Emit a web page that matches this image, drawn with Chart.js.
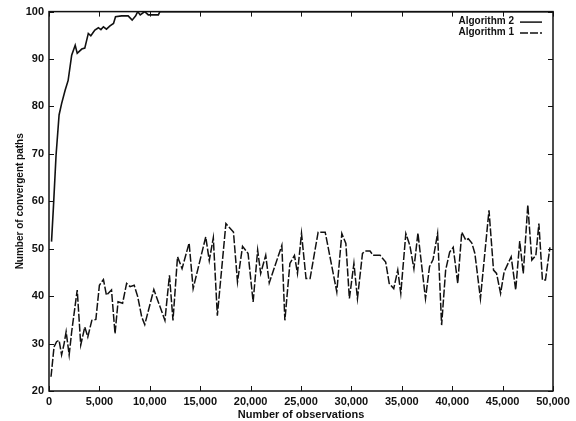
<!DOCTYPE html>
<html>
<head>
<meta charset="utf-8">
<script src="https://cdn.jsdelivr.net/npm/chart.js@4/dist/chart.umd.min.js"></script>
<style>
  html, body { margin: 0; padding: 0; background: #fff; }
  #wrap { width: 576px; height: 421px; }
</style>
</head>
<body>
<div id="wrap"><canvas id="myChart" width="576" height="421"></canvas></div>
<script>
// Algorithm 2 (solid)
const alg2Obs = [250, 450, 700, 1000, 1250, 1600, 1900, 2250, 2600, 2800, 3250, 3550, 3900, 4150,
  4550, 4900, 5150, 5400, 5700, 6050, 6400, 6600, 7200, 7850, 8250, 8600, 8800, 9050, 9500,
  9850, 10850, 11000, 50000];
const alg2Vals = [51.5, 59.2, 69.7, 78.2, 80.6, 83.4, 85.5, 90.8, 92.9, 91.2, 92.1, 92.3, 95.4, 94.9,
  96.1, 96.6, 96.2, 96.8, 96.3, 97.0, 97.5, 98.9, 99.1, 99.1, 98.2, 99.1, 100, 99.3, 100,
  99.3, 99.3, 100, 100];

// Algorithm 1 (dashed)
const alg1Obs = [200, 500, 750, 1000, 1250, 1500, 1700, 2000, 2250, 2800, 3150, 3550, 3850, 4250,
  4650, 5000, 5400, 5700, 6200, 6550, 6850, 7300, 7700, 8050, 8450, 8800, 9200, 9500, 10400,
  11500, 11950, 12300, 12750, 13200, 13900, 14300, 15550, 15900, 16300, 16700, 17550, 18300,
  18700, 19200, 19750, 20250, 20700, 21000, 21500, 21850, 23100, 23400, 23900, 24350, 24650,
  25050, 25500, 25900, 26700, 27400, 28550, 29050, 29450, 29800, 30250, 30600, 31100, 31350,
  31850, 32150, 32850, 33400, 33750, 34200, 34600, 34900, 35400, 35800, 36200, 36600, 37350,
  37750, 38100, 38550, 38950, 39350, 39750, 40100, 40550, 40950, 41350, 41600, 41950, 42250,
  42800, 43650, 44100, 44400, 44800, 45150, 45850, 46300, 46700, 47050, 47500, 47900, 48300,
  48600, 48950, 49250, 49700];
const alg1Vals = [23.0, 29.3, 30.4, 30.7, 27.6, 30.0, 32.5, 27.6, 32.5, 41.3, 29.7, 33.5, 31.4, 34.9,
  35.1, 42.3, 43.5, 40.2, 41.3, 32.1, 38.8, 38.5, 42.7, 42.0, 42.3, 39.9, 35.6, 34.0, 41.4,
  34.9, 44.4, 34.9, 48.3, 45.8, 51.2, 41.6, 52.5, 47.5, 52.3, 35.9, 55.3, 53.5,
  43.0, 50.5, 49.0, 38.8, 49.7, 44.8, 48.6, 42.8, 50.7, 34.9, 46.9, 48.6, 44.8,
  53.2, 43.7, 43.7, 53.5, 53.5, 40.9, 53.2, 51.1, 39.5, 46.9, 39.5, 49.0, 49.5,
  49.5, 48.6, 48.6, 47.2, 42.7, 41.6, 45.5, 40.6, 53.2, 50.7, 45.8, 53.3, 39.5,
  46.2, 47.7, 53.2, 33.9, 45.5, 49.3, 50.3, 42.7, 53.5, 51.8, 52.1, 51.2, 49.0,
  39.5, 58.1, 45.5, 44.8, 40.6, 45.1, 48.3, 41.3, 51.6, 44.8, 59.2, 47.6, 48.6,
  55.3, 43.4, 43.4, 50.3];

const seriesNames = ["Algorithm 2", "Algorithm 1"];
const xTitle = "Number of observations";
const yTitle = "Number of convergent paths";

const ink = "#111";

function toPoints(xs, ys) {
  return xs.map((x, i) => ({ x: x, y: ys[i] }));
}

// gnuplot style frame with inward ticks on all four sides, plus the key
const framePlugin = {
  id: "frame",
  afterDraw(chart) {
    const ctx = chart.ctx;
    const a = chart.chartArea;
    const xs = chart.scales.x;
    const ys = chart.scales.y;
    const len = 5;
    ctx.save();
    ctx.strokeStyle = ink;
    ctx.lineWidth = 1.5;
    ctx.strokeRect(a.left, a.top, a.right - a.left, a.bottom - a.top);
    ctx.lineWidth = 1;
    ctx.beginPath();
    xs.ticks.forEach(t => {
      const px = Math.round(xs.getPixelForValue(t.value)) + 0.5;
      ctx.moveTo(px, a.bottom); ctx.lineTo(px, a.bottom - len);
      ctx.moveTo(px, a.top); ctx.lineTo(px, a.top + len);
    });
    ys.ticks.forEach(t => {
      const py = Math.round(ys.getPixelForValue(t.value)) + 0.5;
      ctx.moveTo(a.left, py); ctx.lineTo(a.left + len, py);
      ctx.moveTo(a.right, py); ctx.lineTo(a.right - len, py);
    });
    ctx.stroke();

    // key
    ctx.font = "bold 10px 'Liberation Sans', Arial, sans-serif";
    ctx.fillStyle = ink;
    ctx.textAlign = "right";
    ctx.textBaseline = "middle";
    chart.data.datasets.forEach((ds, i) => {
      const y = a.top + 10 + i * 11;
      ctx.fillText(ds.label, a.right - 39, y);
      ctx.beginPath();
      ctx.lineWidth = 1.5;
      ctx.setLineDash(ds.borderDash || []);
      ctx.moveTo(a.right - 33, y + 0.5);
      ctx.lineTo(a.right - 11, y + 0.5);
      ctx.stroke();
      ctx.setLineDash([]);
    });
    ctx.restore();
  }
};

new Chart("myChart", {
  type: "line",
  data: {
    datasets: [{
      label: seriesNames[0],
      data: toPoints(alg2Obs, alg2Vals),
      borderColor: ink,
      borderWidth: 1.6,
      pointRadius: 0,
      tension: 0,
      fill: false
    }, {
      label: seriesNames[1],
      data: toPoints(alg1Obs, alg1Vals),
      borderColor: ink,
      borderWidth: 1.5,
      borderDash: [8, 2],
      pointRadius: 0,
      tension: 0,
      fill: false
    }]
  },
  options: {
    responsive: false,
    animation: false,
    layout: { padding: { top: 11, right: 23, left: 0, bottom: 0 } },
    plugins: {
      legend: { display: false },
      tooltip: { enabled: false }
    },
    scales: {
      x: {
        type: "linear",
        min: 0,
        max: 50000,
        grid: { display: false, drawTicks: false },
        border: { display: false },
        afterFit: s => { s.height = 30; },
        ticks: {
          stepSize: 5000,
          padding: 4,
          maxRotation: 0,
          color: ink,
          font: { family: "'Liberation Sans', Arial, sans-serif", size: 11, weight: "bold" },
          callback: v => v.toLocaleString("en-US")
        },
        title: {
          display: true,
          text: xTitle,
          color: ink,
          padding: { top: 0, bottom: 0 },
          font: { family: "'Liberation Sans', Arial, sans-serif", size: 11, weight: "bold", lineHeight: 1.1 }
        }
      },
      y: {
        min: 20,
        max: 100,
        grid: { display: false, drawTicks: false },
        border: { display: false },
        afterFit: s => { s.width = 49; },
        ticks: {
          stepSize: 10,
          padding: 5,
          color: ink,
          font: { family: "'Liberation Sans', Arial, sans-serif", size: 11, weight: "bold" }
        },
        title: {
          display: true,
          text: yTitle,
          color: ink,
          padding: { top: 15, bottom: 0 },
          font: { family: "'Liberation Sans', Arial, sans-serif", size: 10, weight: "bold", lineHeight: 1.1 }
        }
      }
    }
  },
  plugins: [framePlugin]
});
</script>
</body>
</html>
